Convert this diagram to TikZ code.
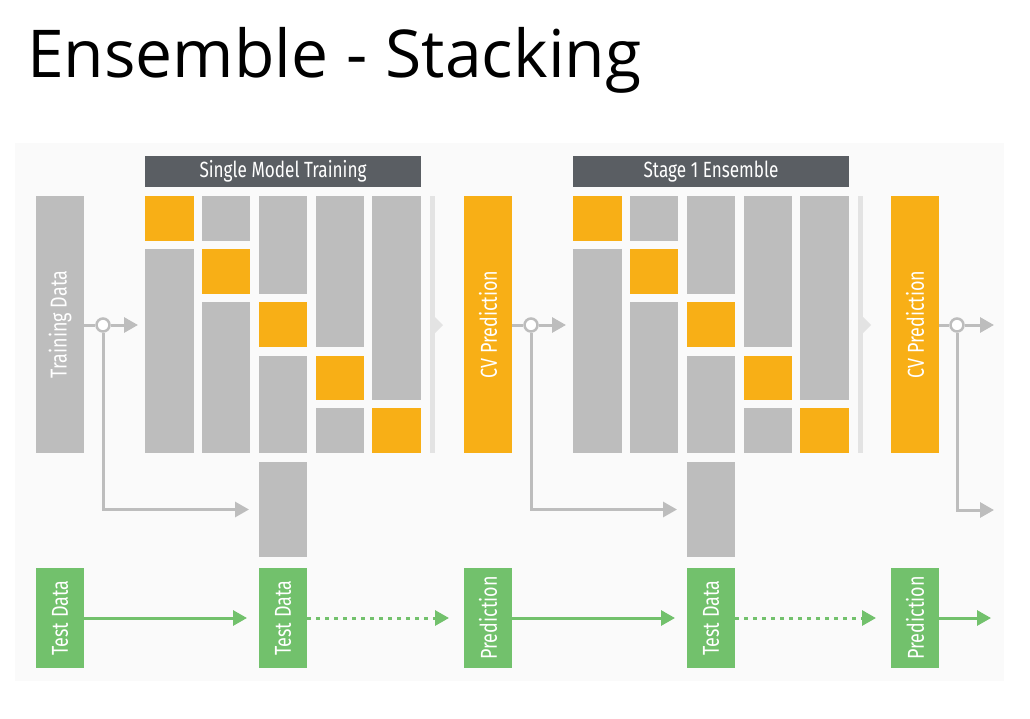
\documentclass[tikz,border=0pt]{standalone}
\usepackage{fontspec}
\setmainfont{Open Sans}
\newfontfamily\condfont[FakeStretch=0.78]{Fira Sans}
\usetikzlibrary{arrows.meta,calc}
\definecolor{cgray}{HTML}{BDBDBD}
\definecolor{corange}{HTML}{F8AF16}
\definecolor{cgreen}{HTML}{72C16C}
\definecolor{cdark}{HTML}{5A5E63}
\definecolor{clight}{HTML}{E3E3E3}
\definecolor{cpanel}{HTML}{FAFAFA}
\newcommand\blk[7]{%
  \pgfmathsetmacro\bw{#5-#3}\pgfmathsetmacro\bh{#6-#4}%
  \node[#2, anchor=north west, minimum width=\bw pt, minimum height=\bh pt] (#1) at (#3,#4) {#7};}
\tikzset{
  base/.style={rectangle, inner sep=0pt, outer sep=0pt, draw=none},
  graybox/.style={base, fill=cgray},
  orangebox/.style={base, fill=corange},
  greenbox/.style={base, fill=cgreen},
  headbox/.style={base, fill=cdark, text=white, font=\condfont\fontsize{22}{24}\selectfont},
  vlabel/.style={text=white, rotate=90, inner sep=0pt, font=\condfont\fontsize{23}{25}\selectfont},
  conn/.style={draw=cgray, line width=3pt},
  connarrow/.style={conn, -{Triangle[length=14pt,width=15pt]}},
  gconn/.style={draw=cgreen, line width=3pt, -{Triangle[length=14pt,width=15pt]}},
  gdots/.style={gconn, dash pattern=on 4pt off 5pt},
  joint/.style={circle, draw=cgray, line width=2.5pt, fill=white, minimum size=13pt, inner sep=0pt},
  lightbar/.style={fill=clight, draw=none},
}
\begin{document}
\begin{tikzpicture}[x=1pt, y=-1pt]
\useasboundingbox (0,0) rectangle (1030,718);
\fill[white] (0,0) rectangle (1030,718);
\fill[cpanel] (15,143) rectangle (1004,681);
\node[anchor=base west, inner sep=0pt, font=\fontsize{66}{70}\selectfont] (title) at (27,77) {Ensemble\hspace{18pt}-\hspace{18pt}Stacking};

\foreach \g/\dx/\lab/\head/\inc in {1/0/Training Data/Single Model Training/graybox, 2/428/CV Prediction/Stage 1 Ensemble/orangebox}{
\begin{scope}[xshift=\dx pt]
  % input bar
  \blk{in\g}{\inc}{36}{196}{84}{453}{}
  \node[vlabel] at (in\g) {\lab};
  % header
  \blk{head\g}{headbox}{145}{156}{421}{187}{\head}
  % five folds
  \blk{c\g a1}{orangebox}{145}{196}{194}{241}{}
  \blk{c\g b1}{graybox}{145}{249}{194}{453}{}
  \blk{c\g a2}{graybox}{202}{196}{250}{241}{}
  \blk{c\g b2}{orangebox}{202}{249}{250}{294}{}
  \blk{c\g c2}{graybox}{202}{302}{250}{453}{}
  \blk{c\g a3}{graybox}{259}{196}{307}{294}{}
  \blk{c\g b3}{orangebox}{259}{302}{307}{347}{}
  \blk{c\g c3}{graybox}{259}{356}{307}{453}{}
  \blk{c\g a4}{graybox}{316}{196}{364}{347}{}
  \blk{c\g b4}{orangebox}{316}{356}{364}{400}{}
  \blk{c\g c4}{graybox}{316}{408}{364}{453}{}
  \blk{c\g a5}{graybox}{372}{196}{421}{400}{}
  \blk{c\g b5}{orangebox}{372}{408}{421}{453}{}
  % test block under fold 3
  \blk{ext\g}{graybox}{259}{462}{307}{557}{}
  % light bar with chevron
  \fill[lightbar] (430,196) rectangle (435,453);
  \fill[lightbar] (435,317) -- (443,325) -- (435,333) -- cycle;
  % green row
  \blk{ta\g}{greenbox}{36}{568}{84}{668}{}
  \node[vlabel] at (ta\g) {\ifnum\g=1 Test Data\else Prediction\fi};
  \blk{tb\g}{greenbox}{259}{568}{307}{668}{}
  \node[vlabel] at (tb\g) {Test Data};
  % connectors
  \node[joint] (j\g) at (103,325) {};
  \draw[conn] (in\g.east |- j\g) -- (j\g);
  \draw[connarrow, shorten >=7pt] (j\g) -- (j\g -| c\g b1.west);
  \draw[connarrow, shorten >=10pt] (j\g) |- (ext\g.west);
  \draw[gconn, shorten >=12pt] (ta\g) -- (tb\g);
\end{scope}
}
% second-stage outputs
\blk{out}{orangebox}{891}{196}{939}{453}{}
\node[vlabel] at (out) {CV Prediction};
\blk{pred}{greenbox}{891}{568}{939}{668}{}
\node[vlabel] at (pred) {Prediction};
\draw[gdots, shorten >=15pt] (tb1) -- (ta2);
\draw[gdots, shorten >=15pt] (tb2) -- (pred);
\node[joint] (j3) at (957,325) {};
\coordinate (e1) at (994,325);
\coordinate (e2) at (994,510);
\coordinate (e3) at (991,618);
\draw[conn] (out.east |- j3) -- (j3);
\draw[connarrow] (j3) -- (e1);
\draw[connarrow] (j3) |- (e2);
\draw[gconn] (pred.east |- e3) -- (e3);
\end{tikzpicture}
\end{document}
